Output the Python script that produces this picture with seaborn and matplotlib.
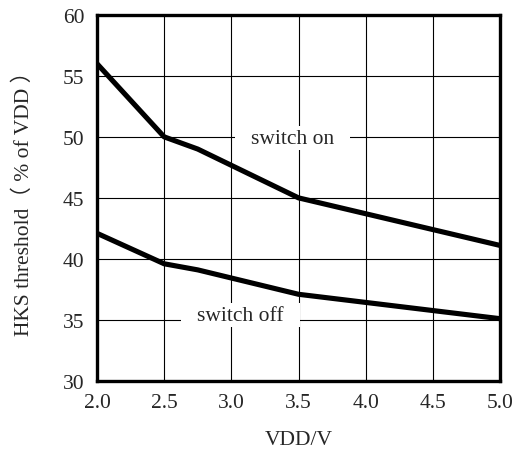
import matplotlib
matplotlib.use("Agg")
import matplotlib.pyplot as plt
import pandas as pd
import seaborn as sns

# values
vdd_on = [2.0, 2.5, 2.75, 3.5, 5.0]
thr_on = [56.0, 50.0, 49.0, 45.0, 41.1]
vdd_off = [2.0, 2.5, 2.75, 3.5, 5.0]
thr_off = [42.1, 39.6, 39.1, 37.1, 35.1]

x_ticks = [2.0, 2.5, 3.0, 3.5, 4.0, 4.5, 5.0]
y_ticks = [30, 35, 40, 45, 50, 55, 60]

df = pd.concat([
    pd.DataFrame({"vdd": vdd_on, "thr": thr_on, "state": "switch on"}),
    pd.DataFrame({"vdd": vdd_off, "thr": thr_off, "state": "switch off"}),
])

sns.set_style("white")
plt.rcParams["font.family"] = ["Liberation Serif", "Noto Sans CJK SC"]
FS = 15.5

fig = plt.figure(figsize=(5.13, 4.52), dpi=100)
ax = fig.add_axes([0.189, 0.155, 0.786, 0.810])

sns.lineplot(
    data=df, x="vdd", y="thr", hue="state", units="state", estimator=None,
    palette={"switch on": "black", "switch off": "black"},
    linewidth=3.7, legend=False, ax=ax, sort=False, zorder=4,
)

ax.set_xlim(2.0, 5.0)
ax.set_ylim(30, 60)
ax.set_xticks(x_ticks)
ax.set_xticklabels([f"{v:.1f}" for v in x_ticks])
ax.set_yticks(y_ticks)
ax.grid(True, color="black", linewidth=0.8)
ax.set_axisbelow(True)
ax.tick_params(axis="x", length=0, labelsize=FS, pad=9)
ax.tick_params(axis="y", length=0, labelsize=FS, pad=9)

for s in ax.spines.values():
    s.set_color("black")
    s.set_linewidth(2.4)

box = dict(boxstyle="square,pad=0.75", mutation_aspect=0.15,
           facecolor="white", edgecolor="none")
ax.text(3.455, 49.9, "switch on", fontsize=FS, ha="center", va="center",
        bbox=box, zorder=3)
ax.text(3.07, 35.4, "switch off", fontsize=FS, ha="center", va="center",
        bbox=box, zorder=3)

ax.set_xlabel("VDD/V", fontsize=FS, labelpad=13)
ax.set_ylabel("HKS threshold（ % of VDD ）", fontsize=FS, labelpad=21)

fig.savefig("out.png", dpi=100)
